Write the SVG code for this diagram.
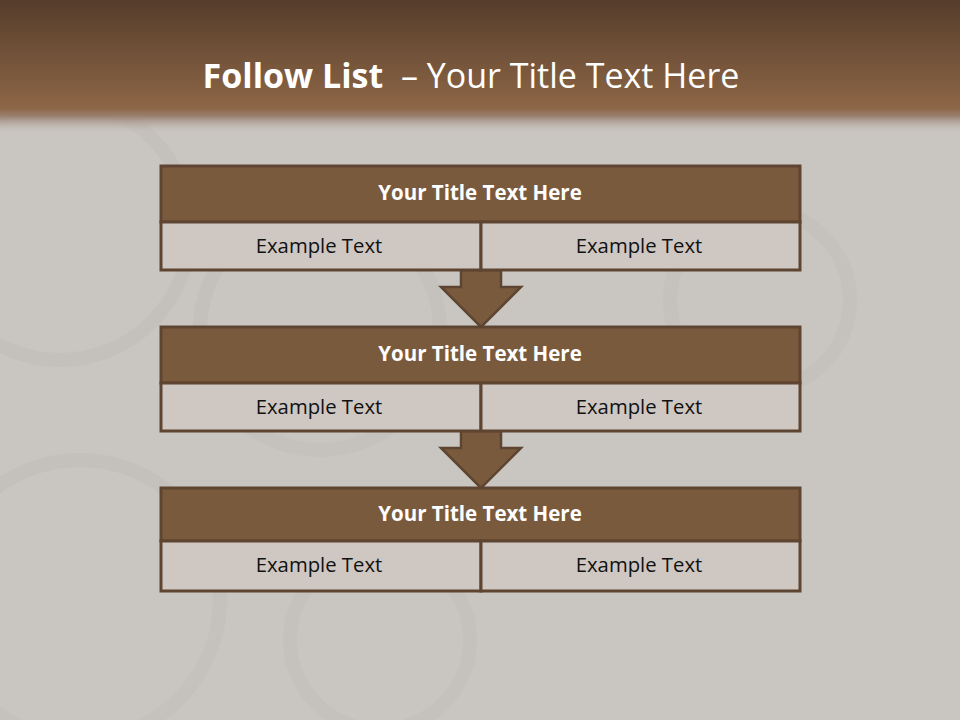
<svg xmlns="http://www.w3.org/2000/svg" width="960" height="720" viewBox="0 0 960 720">
<defs>
<linearGradient id="band" x1="0" y1="0" x2="0" y2="1">
<stop offset="0" stop-color="#553d2b"/>
<stop offset="0.8" stop-color="#8d6646"/>
<stop offset="0.86" stop-color="#9a8070"/>
<stop offset="1" stop-color="#cdcac6" stop-opacity="0"/>
</linearGradient>
<style>
.hdr{fill:#7a5a3d;stroke:#5e4531;stroke-width:3}
.cell{fill:#cec7c2;stroke:#5e4531;stroke-width:3}
.ht{font-family:"Open Sans",sans-serif;font-weight:bold;font-size:20.5px;fill:#ffffff;text-anchor:middle}
.ct{font-family:"Open Sans",sans-serif;font-size:20.3px;fill:#111111;text-anchor:middle}
.arr{fill:#7a5a3d;stroke:#5e4531;stroke-width:2.5;stroke-linejoin:miter}
</style>
</defs>
<rect width="960" height="720" fill="#c9c6c2"/>
<g fill="none" stroke="#bdb9b4" stroke-width="14" opacity="0.35">
<circle cx="320" cy="330" r="120"/>
<circle cx="380" cy="640" r="90"/>
<circle cx="760" cy="300" r="90"/>
<circle cx="80" cy="600" r="140"/>
<circle cx="60" cy="230" r="130"/>
</g>
<rect width="960" height="135" fill="url(#band)"/>
<text x="471" y="88" font-family="Open Sans, sans-serif" font-size="34" fill="#ffffff" text-anchor="middle" xml:space="preserve"><tspan font-weight="bold">Follow List</tspan>  – Your Title Text Here</text>
<g id="connectors">
<polygon class="arr" points="461,270 501,270 501,287 521,287 481,327 441,287 461,287"/>
<polygon class="arr" points="461,431 501,431 501,448 521,448 481,488 441,448 461,448"/>
</g>
<g id="node1">
<rect class="hdr" x="161" y="166" width="639" height="56"/>
<text class="ht" x="480" y="200">Your Title Text Here</text>
<rect class="cell" x="161" y="222" width="320" height="48"/>
<rect class="cell" x="481" y="222" width="319" height="48"/>
<text class="ct" x="319" y="253">Example Text</text>
<text class="ct" x="639" y="253">Example Text</text>
</g>
<g id="node2">
<rect class="hdr" x="161" y="327" width="639" height="56"/>
<text class="ht" x="480" y="361">Your Title Text Here</text>
<rect class="cell" x="161" y="383" width="320" height="48"/>
<rect class="cell" x="481" y="383" width="319" height="48"/>
<text class="ct" x="319" y="414">Example Text</text>
<text class="ct" x="639" y="414">Example Text</text>
</g>
<g id="node3">
<rect class="hdr" x="161" y="488" width="639" height="53"/>
<text class="ht" x="480" y="521">Your Title Text Here</text>
<rect class="cell" x="161" y="541" width="320" height="50"/>
<rect class="cell" x="481" y="541" width="319" height="50"/>
<text class="ct" x="319" y="572">Example Text</text>
<text class="ct" x="639" y="572">Example Text</text>
</g>
</svg>
